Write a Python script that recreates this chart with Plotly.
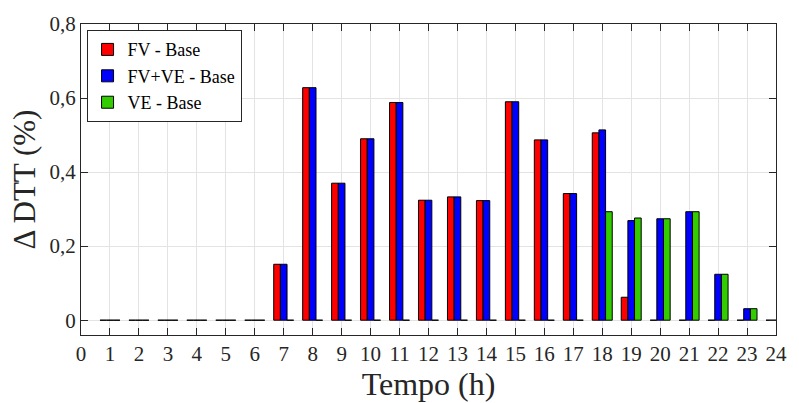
import plotly.graph_objects as go

hours = list(range(1, 25))
fv_base = [0, 0, 0, 0, 0, 0, 0.151, 0.628, 0.370, 0.490, 0.588, 0.324, 0.333, 0.323,
           0.590, 0.487, 0.342, 0.506, 0.062, 0, 0, 0, 0, 0]
fvve_base = [0, 0, 0, 0, 0, 0, 0.151, 0.628, 0.370, 0.490, 0.588, 0.324, 0.333, 0.323,
             0.590, 0.487, 0.342, 0.514, 0.269, 0.274, 0.293, 0.124, 0.031, 0]
ve_base = [0, 0, 0, 0, 0, 0, 0, 0, 0, 0, 0, 0, 0, 0,
           0, 0, 0, 0.293, 0.276, 0.274, 0.293, 0.124, 0.031, 0]
names = ["FV - Base", "FV+VE - Base", "VE - Base"]
colors = ["#FF0000", "#0000FF", "#33CC00"]
x_ticks = list(range(0, 25))
y_ticks = [0, 0.2, 0.4, 0.6, 0.8]
y_labels = ["0", "0,2", "0,4", "0,6", "0,8"]

SERIF = "Liberation Serif, Times New Roman, serif"

fig = go.Figure()
for name, vals, col in zip(names, [fv_base, fvve_base, ve_base], colors):
    fig.add_trace(go.Bar(x=hours, y=vals, name=name, marker_color=col,
                         marker_line_color="black", marker_line_width=1))

axis_common = dict(showline=True, linecolor="#262626", linewidth=1, mirror="ticks",
                   ticks="inside", ticklen=7, tickcolor="#262626",
                   showgrid=True, gridcolor="#E3E3E3", gridwidth=1, zeroline=False,
                   tickfont=dict(family=SERIF, size=21, color="#262626"))

fig.update_layout(
    width=799, height=403,
    margin=dict(l=81, r=14, t=20, b=68),
    plot_bgcolor="white", paper_bgcolor="white",
    barmode="group", bargap=0.31, bargroupgap=0,
    font=dict(family=SERIF, color="#262626"),
    xaxis=dict(range=[0, 24], tickvals=x_ticks, tickangle=0,
               title=dict(text="Tempo (h)", font=dict(size=32, family=SERIF), standoff=2),
               **axis_common),
    yaxis=dict(range=[-0.04, 0.8], tickvals=y_ticks, ticktext=y_labels,
               title=dict(text="Δ DTT (%)", font=dict(size=31, family=SERIF), standoff=4),
               **axis_common),
    legend=dict(x=0.008, y=0.98, xanchor="left", yanchor="top",
                bgcolor="white", bordercolor="#262626", borderwidth=1,
                font=dict(family=SERIF, size=18, color="black"),
                tracegroupgap=0, itemwidth=30),
)

fig.write_html("out.html")
